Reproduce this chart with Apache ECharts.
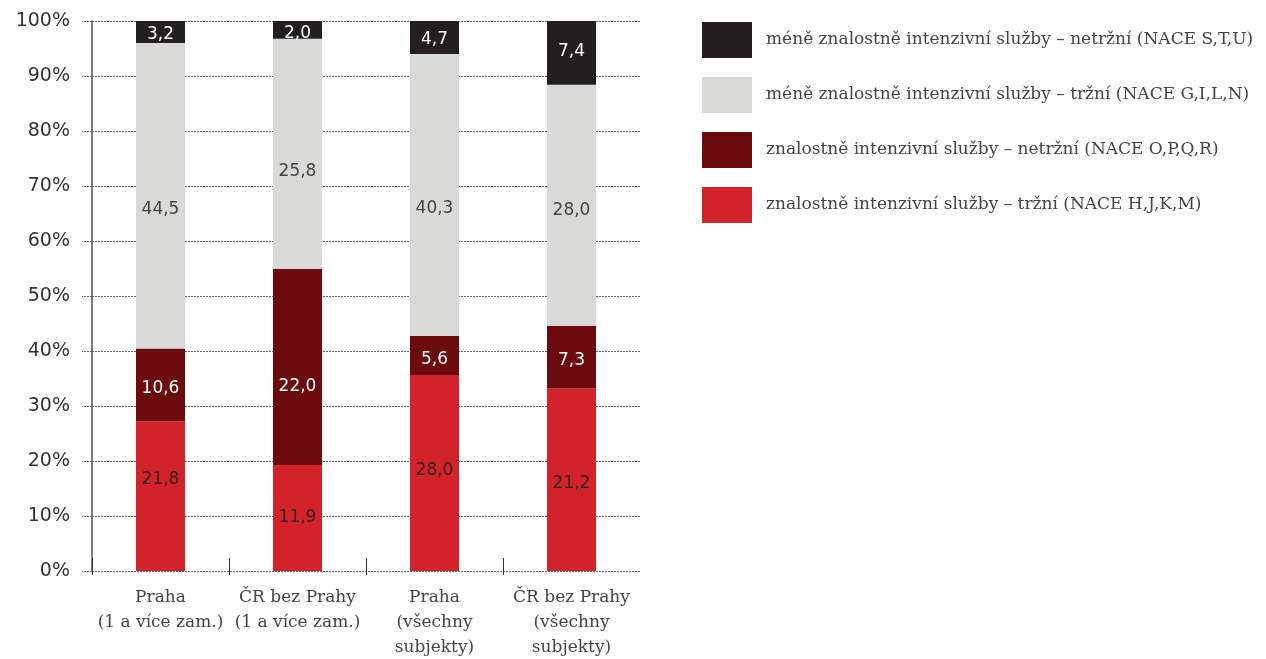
<!DOCTYPE html>
<html><head><meta charset="utf-8">
<script src="https://cdn.jsdelivr.net/npm/echarts@6/dist/echarts.min.js"></script>
<style>html,body{margin:0;padding:0;background:#fff}#c{width:1266px;height:659px}</style>
</head><body><div id="c"></div>
<script>
const categories = ['Praha\n(1 a více zam.)', 'ČR bez Prahy\n(1 a více zam.)', 'Praha\n(všechny\nsubjekty)', 'ČR bez Prahy\n(všechny\nsubjekty)'];
const seriesNames = [
  'znalostně intenzivní služby – tržní (NACE H,J,K,M)',
  'znalostně intenzivní služby – netržní (NACE O,P,Q,R)',
  'méně znalostně intenzivní služby – tržní (NACE G,I,L,N)',
  'méně znalostně intenzivní služby – netržní (NACE S,T,U)'
];
const kisMarket = [21.8, 11.9, 28.0, 21.2];
const kisNonMarket = [10.6, 22.0, 5.6, 7.3];
const lkisMarket = [44.5, 25.8, 40.3, 28.0];
const lkisNonMarket = [3.2, 2.0, 4.7, 7.4];
const yTicks = [0, 10, 20, 30, 40, 50, 60, 70, 80, 90, 100];
const groupDividers = [0, 1, 2, 3];

// styling (not data)
const colors = ['#d2232a', '#6b0b0e', '#d9d9d8', '#231f20'];
const labelColors = ['#3a2222', '#ffffff', '#444444', '#ffffff'];
const labelNudgeY = [[-17, 0, -2, 4], [4, 20, 4, 3], [14, 18, 14, 5], [3, 4, 2, -1]];

const raw = [kisMarket, kisNonMarket, lkisMarket, lkisNonMarket];
const totals = categories.map((_, i) => raw.reduce((s, a) => s + a[i], 0));

const chart = echarts.init(document.getElementById('c'));
const serif = 'DejaVu Serif';
const sans = 'DejaVu Sans';
chart.setOption({
  animation: false,
  grid: { left: 92, right: 626, top: 21, bottom: 88, containLabel: false, outerBoundsMode: 'none' },
  legend: {
    orient: 'vertical', left: 697, top: 17,
    itemWidth: 50, itemHeight: 36, itemGap: 19,
    icon: 'rect',
    data: seriesNames.slice().reverse(),
    textStyle: { fontFamily: serif, fontSize: 17, color: '#444', padding: [0, 0, 0, 9] }
  },
  xAxis: [{
    type: 'category', data: categories,
    axisLine: { show: false },
    axisTick: { show: false },
    axisLabel: { interval: 0, fontFamily: serif, fontSize: 17, color: '#444', lineHeight: 25, margin: 14 }
  }, {
    type: 'value', min: 0, max: 4, position: 'bottom', offset: 4,
    axisLine: { show: false },
    splitLine: { show: false },
    axisTick: { show: true, inside: true, length: 17, customValues: groupDividers, lineStyle: { color: '#333', width: 1 } },
    axisLabel: { show: false }
  }],
  yAxis: {
    type: 'value', min: 0, max: 100, interval: 10,
    axisLine: { show: true, lineStyle: { color: '#555', width: 1.5 } },
    axisTick: { show: true, length: 10, lineStyle: { color: '#666', type: [2, 1] } },
    splitLine: { show: true, lineStyle: { color: '#666', type: [2, 1], width: 1 } },
    axisLabel: { fontFamily: sans, fontSize: 19, color: '#333', margin: 22,
      formatter: v => yTicks.includes(v) ? v + '%' : '' }
  },
  series: raw.map((arr, si) => ({
    name: seriesNames[si], type: 'bar', stack: 'total', barWidth: 49,
    itemStyle: { color: colors[si] },
    data: arr.map((v, i) => ({
      value: v / totals[i] * 100, raw: v,
      label: { offset: [0, labelNudgeY[si][i]] }
    })),
    label: {
      show: true, position: 'inside', fontFamily: sans, fontSize: 17, color: labelColors[si],
      formatter: p => p.data.raw.toFixed(1).replace('.', ',')
    }
  }))
});
</script></body></html>
